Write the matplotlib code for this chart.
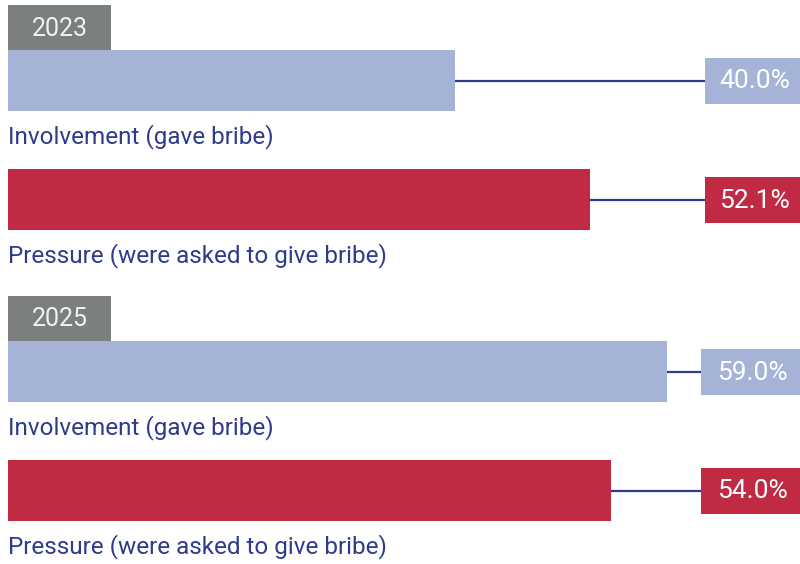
import matplotlib.pyplot as plt
from matplotlib.patches import Rectangle
from matplotlib import font_manager

# Data
years = ["2023", "2025"]
labels = ["Involvement (gave bribe)", "Pressure (were asked to give bribe)"]
values_2023 = [40.0, 52.1]
values_2025 = [59.0, 54.0]
values = [values_2023, values_2025]

light_blue = "#a5b3d7"
red = "#c02b43"
navy = "#2e3b8c"
grey = "#7b7f7f"

names = {f.name for f in font_manager.fontManager.ttflist}
fam = [f for f in ["Liberation Sans Narrow", "Roboto", "DejaVu Sans"] if f in names]
plt.rcParams["font.family"] = fam

fig = plt.figure(figsize=(8, 5.64), dpi=100)
ax = fig.add_axes([0, 0, 1, 1])
# x in percent: 8 px offset, ~11.17 px per percent
scale = 11.17
ax.set_xlim(-8 / scale, 792 / scale)
ax.set_ylim(564, 0)
ax.axis("off")

bar_colors = [light_blue, red]
group_top = [5, 296]
box_left = [705, 701]

for g, year in enumerate(years):
    y0 = group_top[g]
    # year tag
    ax.add_patch(Rectangle((0, y0), 103 / scale, 45, color=grey, lw=0))
    ax.text(51.5 / scale, y0 + 23.5, year, color="#f2f2f2", fontsize=18,
            ha="center", va="center")
    for i, (lab, v) in enumerate(zip(labels, values[g])):
        top = y0 + 45 + i * 119
        yc = top + 30.5
        ax.barh(yc, v, height=61, left=0, color=bar_colors[i], lw=0)
        bx = (box_left[g] - 8) / scale
        ax.plot([v, bx], [yc, yc], color=navy, lw=1.6, solid_capstyle="butt")
        ax.add_patch(Rectangle((bx, yc - 23), 100 / scale, 46,
                               color=bar_colors[i], lw=0))
        ax.text((bx + 792 / scale) / 2 + 0.2, yc + 1, f"{v:.1f}%",
                color="white", fontsize=19, ha="center", va="center")
        ax.text(0, top + 87, lab, color=navy, fontsize=17.5,
                ha="left", va="center")

fig.savefig("out.png", dpi=100)
